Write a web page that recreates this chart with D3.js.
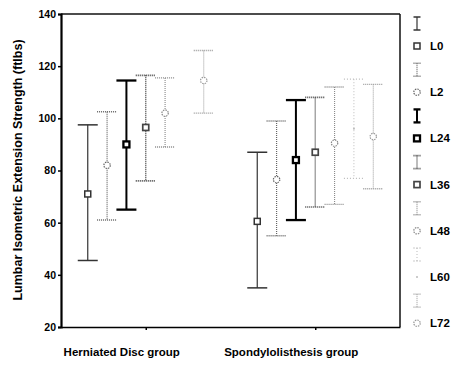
<!DOCTYPE html>
<meta charset="UTF-8">
<head>
    <title>Lumbar extension strength</title>
    <style>
        body { margin: 0; background: #fff; }
        text { font-family: "Liberation Sans", Arial, sans-serif; }
    </style>
</head>
<body>
<svg width="452" height="365"></svg>
<script src="https://cdnjs.cloudflare.com/ajax/libs/d3/7.8.5/d3.min.js"></script>
<script>

// Data (ftlbs).
var groups = ["Herniated Disc group", "Spondylolisthesis group"];
var series = ["L0", "L2", "L24", "L36", "L48", "L60", "L72"];
var yTicks = [20, 40, 60, 80, 100, 120, 140];

var herniatedMean = [71, 82, 90, 96.5, 102, null, 114.5];
var herniatedHigh = [97.5, 102.5, 114.5, 116.5, 115.5, null, 126];
var herniatedLow  = [45.5, 61, 65, 76, 89, null, 102];

var spondyMean = [60.5, 76.5, 84, 87, 90.5, 96, 93];
var spondyHigh = [87, 99, 107, 108, 112, 115, 113];
var spondyLow  = [35, 55, 61, 66, 67, 77, 73];

// Look of each series (line colour, dash, width, marker).
var styles = {
    L0:  { color: "#333", dash: null,  width: 1.2, marker: "square" },
    L2:  { color: "#666", dash: "1,1", width: 1.2, marker: "circle" },
    L24: { color: "#000", dash: null,  width: 2,   marker: "square" },
    L36: { color: "#444", dash: "1,1", width: 1.4, marker: "square" },
    L48: { color: "#888", dash: "1,1", width: 1.1, marker: "circle" },
    L60: { color: "#bbb", dash: "1,2", width: 1,   marker: "dot" },
    L72: { color: "#999", dash: "1,1", width: 1,   marker: "circle" }
};

var svg = d3.select("svg");
// plot box (named to avoid window.top)
var pLeft = 61, pRight = 400, pTop = 14, pBottom = 327;

var y = d3.scaleLinear().domain([20, 140]).range([pBottom, pTop]);
var x = d3.scalePoint().domain(groups).range([pLeft, pRight]).padding(0.5);
var sub = d3.scalePoint().domain(series).range([-58, 58]);

// Build rows for drawing.
var rows = [];
series.forEach(function(s, i) {
    if (herniatedMean[i] != null)
        rows.push({ g: groups[0], s: s, mean: herniatedMean[i], hi: herniatedHigh[i], lo: herniatedLow[i] });
    rows.push({ g: groups[1], s: s, mean: spondyMean[i], hi: spondyHigh[i], lo: spondyLow[i] });
});

// Frame: top and right sides.
svg.append("line").attr("x1", pLeft).attr("x2", pRight).attr("y1", pTop).attr("y2", pTop)
    .attr("stroke", "#111").attr("stroke-width", 1.5);
svg.append("line").attr("x1", pRight).attr("x2", pRight).attr("y1", pTop).attr("y2", pBottom)
    .attr("stroke", "#111").attr("stroke-width", 1.5);

// Y axis
var yAxis = svg.append("g")
    .attr("transform", "translate(" + pLeft + ",0)")
    .call(d3.axisLeft(y).tickValues(yTicks).tickSize(3).tickPadding(2));
yAxis.select(".domain").attr("stroke", "#000").attr("stroke-width", 2.2);
yAxis.selectAll(".tick line").attr("stroke", "#000").attr("stroke-width", 1.5);
yAxis.selectAll("text").attr("font-size", 10.5).attr("font-weight", "bold")
    .attr("fill", "#000").style("font-family", "Liberation Sans, Arial, sans-serif");

// X axis
var xAxis = svg.append("g")
    .attr("transform", "translate(0," + pBottom + ")")
    .call(d3.axisBottom(x).tickSize(3).tickSizeOuter(0).tickFormat(""));
xAxis.select(".domain").attr("stroke", "#000").attr("stroke-width", 1.6);
xAxis.selectAll(".tick line").attr("stroke", "#000").attr("stroke-width", 1.5);

svg.selectAll(".glabel")
    .data(groups)
    .enter().append("text")
    .attr("class", "glabel")
    .attr("x", function(d) { return x(d) - 24; })
    .attr("y", 356)
    .attr("text-anchor", "middle")
    .attr("font-size", 11.5)
    .attr("font-weight", "bold")
    .text(function(d) { return d; });

svg.append("text")
    .attr("transform", "translate(22," + 170 + ") rotate(-90)")
    .attr("text-anchor", "middle")
    .attr("font-size", 12.5)
    .attr("font-weight", "bold")
    .text("Lumbar Isometric Extension Strength  (ftlbs)");

// Draw one error bar with its marker.
function drawBar(g, cx, yHi, yLo, yMid, st, cap) {
    g.append("line").attr("x1", cx).attr("x2", cx).attr("y1", yHi).attr("y2", yLo)
        .attr("stroke", st.color).attr("stroke-width", st.width).attr("stroke-dasharray", st.dash);
    [yHi, yLo].forEach(function(cy) {
        g.append("line").attr("x1", cx - cap).attr("x2", cx + cap).attr("y1", cy).attr("y2", cy)
            .attr("stroke", st.color).attr("stroke-width", st.width + 0.3).attr("stroke-dasharray", st.dash);
    });
    if (yMid != null) drawMarker(g, cx, yMid, st);
}

function drawMarker(g, cx, cy, st) {
    if (st.marker == "square") {
        g.append("rect").attr("x", cx - 3).attr("y", cy - 3).attr("width", 6).attr("height", 6)
            .attr("fill", "#fff").attr("stroke", st.color).attr("stroke-width", st.width + 0.3);
    } else if (st.marker == "circle") {
        g.append("circle").attr("cx", cx).attr("cy", cy).attr("r", 3.2)
            .attr("fill", "#fff").attr("stroke", st.color).attr("stroke-width", 1.2)
            .attr("stroke-dasharray", "1.5,1");
    } else {
        g.append("circle").attr("cx", cx).attr("cy", cy).attr("r", 1)
            .attr("fill", st.color);
    }
}

var bars = svg.append("g");
rows.forEach(function(d) {
    drawBar(bars, x(d.g) + sub(d.s), y(d.hi), y(d.lo), y(d.mean), styles[d.s], 10);
});

// Legend
var legend = svg.append("g");
series.forEach(function(s, i) {
    var ly = 46 + i * 46.2;
    var st = styles[s];
    drawBar(legend, 417, ly - 29, ly - 16, null, st, 3.5);
    drawMarker(legend, 417, ly, st);
    legend.append("text")
        .attr("x", 430).attr("y", ly + 4)
        .attr("font-size", 11.5).attr("font-weight", "bold")
        .text(s);
});

</script>
</body>
